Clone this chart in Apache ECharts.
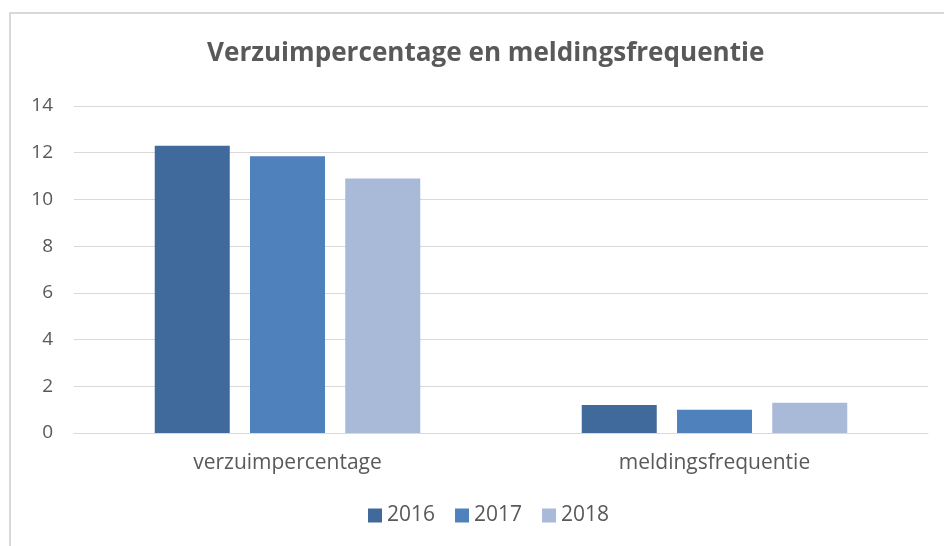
<!DOCTYPE html>
<html>
<head>
<meta charset="utf-8">
<script src="https://cdn.jsdelivr.net/npm/echarts@6/dist/echarts.min.js"></script>
<style>
html,body{margin:0;padding:0;background:#fff;}
#main{width:944px;height:546px;}
</style>
</head>
<body>
<div id="main"></div>
<script>
var categories = ['verzuimpercentage', 'meldingsfrequentie'];
var years = ['2016', '2017', '2018'];
var v2016 = [12.3, 1.2];
var v2017 = [11.85, 1.0];
var v2018 = [10.9, 1.3];
var colors = ['#3f6a9b', '#4f81bd', '#a9b9d8'];

var myChart = echarts.init(document.getElementById('main'));
var txt = '#595959';
var font = '"Open Sans", sans-serif';

function mkSeries(name, data, i){
	return {
		name: name,
		type: 'bar',
		data: data,
		barWidth: 75,
		barGap: '27%',
		itemStyle: {color: colors[i]}
	};
}

// the original chart box is a bit wider than the picture, so title/legend sit right of centre
option = {
	animation: false,
	graphic: [{
		type: 'rect',
		shape: {x: 10, y: 13, width: 960, height: 560},
		style: {fill: 'none', stroke: '#d9d9d9', lineWidth: 2},
		silent: true
	}],
	title: {
		text: 'Verzuimpercentage en meldingsfrequentie',
		left: 202,
		top: 36,
		textStyle: {fontSize: 26.1, fontWeight: 'bold', color: txt, fontFamily: font}
	},
	legend: {
		data: years,
		bottom: 15,
		left: 363,
		itemWidth: 14,
		itemHeight: 14,
		itemGap: 20,
		icon: 'rect',
		textStyle: {fontSize: 21, color: txt, fontFamily: font}
	},
	grid: {left: 74, right: 16, top: 106, bottom: 113},
	xAxis: {
		type: 'category',
		data: categories,
		axisTick: {show: false},
		axisLine: {lineStyle: {color: '#d9d9d9', width: 1}},
		axisLabel: {fontSize: 21, color: txt, margin: 20, fontFamily: font}
	},
	yAxis: {
		type: 'value',
		min: 0,
		max: 14,
		interval: 2,
		axisLine: {show: false},
		axisTick: {show: false},
		splitLine: {lineStyle: {color: '#d9d9d9', width: 1}},
		axisLabel: {fontSize: 19, color: txt, margin: 21, fontFamily: font}
	},
	series: [
		mkSeries(years[0], v2016, 0),
		mkSeries(years[1], v2017, 1),
		mkSeries(years[2], v2018, 2)
	]
};
myChart.setOption(option);
</script>
</body>
</html>
